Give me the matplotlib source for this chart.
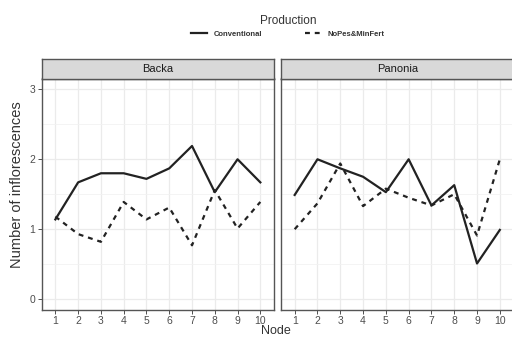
import numpy as np
import matplotlib.pyplot as plt
from matplotlib.lines import Line2D

plt.rcParams['font.family'] = ['Liberation Sans', 'DejaVu Sans']

nodes = [1, 2, 3, 4, 5, 6, 7, 8, 9, 10]
locations = ["Backa", "Panonia"]
productions = ["Conventional", "NoPes&MinFert"]

backa_conv = [1.14, 1.67, 1.80, 1.80, 1.72, 1.87, 2.19, 1.53, 2.00, 1.67]
backa_nopes = [1.18, 0.93, 0.82, 1.39, 1.14, 1.31, 0.77, 1.56, 1.01, 1.39]
panonia_conv = [1.49, 2.00, 1.87, 1.75, 1.53, 2.00, 1.34, 1.63, 0.51, 0.99]
panonia_nopes = [1.00, 1.37, 1.94, 1.33, 1.58, 1.45, 1.34, 1.50, 0.91, 2.00]

data = {"Backa": (backa_conv, backa_nopes), "Panonia": (panonia_conv, panonia_nopes)}
styles = {"Conventional": "-", "NoPes&MinFert": (0, (2.2, 2.2))}

fig = plt.figure(figsize=(5.12, 3.38), dpi=100)
W, H = 512, 338

def fr(x0, y0, x1, y1):
    # pixel box (top-left origin) -> figure fraction
    return [x0 / W, 1 - y1 / H, (x1 - x0) / W, (y1 - y0) / H]

panel_x = [(41.7, 274), (281, 513.5)]
top, bottom = 78.5, 310
grey20 = "#333333"
for i, loc in enumerate(locations):
    x0, x1 = panel_x[i]
    ax = fig.add_axes(fr(x0, top, x1, bottom))
    conv, nopes = data[loc]
    ax.plot(nodes, conv, color="#222222", lw=1.6, ls=styles["Conventional"])
    ax.plot(nodes, nopes, color="#222222", lw=1.6, ls=styles["NoPes&MinFert"])
    ax.set_xlim(0.4, 10.6)
    ax.set_ylim(-0.155, 3.155)
    ax.set_xticks(nodes)
    ax.set_yticks([0, 1, 2, 3])
    ax.set_yticks([0.5, 1.5, 2.5], minor=True)
    ax.grid(True, which="major", color="#ebebeb", lw=0.9)
    ax.grid(True, which="minor", axis="y", color="#f2f2f2", lw=0.6)
    ax.set_axisbelow(True)
    for s in ax.spines.values():
        s.set_color("#555555")
        s.set_linewidth(1.0)
    ax.tick_params(which="major", length=3, width=0.6, color=grey20,
                   labelcolor="#4d4d4d", labelsize=7.5, pad=1.5)
    ax.tick_params(which="minor", length=0)
    if i == 1:
        ax.tick_params(axis="y", left=False, labelleft=False)
    # strip
    sax = fig.add_axes(fr(x0, top - 20, x1, top))
    sax.set_facecolor("#d9d9d9")
    sax.set_xticks([])
    sax.set_yticks([])
    for s in sax.spines.values():
        s.set_color("#555555")
        s.set_linewidth(1.0)
    sax.text(0.5, 0.5, loc, ha="center", va="center", fontsize=8, color="#1a1a1a",
             transform=sax.transAxes)

fig.text(17 / W, 1 - 184.5 / H, "Number of inflorescences", rotation=90,
         ha="center", va="center", fontsize=10.5, color="#333333")
fig.text(276 / W, 1 - 331 / H, "Node", ha="center", va="center", fontsize=9, color="#333333")

handles = [Line2D([], [], color="#222222", lw=1.6, ls=styles[p]) for p in productions]
leg = fig.legend(handles, productions, loc="center", bbox_to_anchor=(288 / W, 1 - 26.5 / H),
                 ncol=2, frameon=False, title="Production", handlelength=2.0,
                 columnspacing=5.5, handletextpad=1.0,
                 prop={"size": 5.5, "weight": "bold"}, title_fontsize=8.5)
for t in leg.get_texts():
    t.set_color("#333333")
leg.get_title().set_color("#333333")

fig.savefig("out.png", dpi=100)
